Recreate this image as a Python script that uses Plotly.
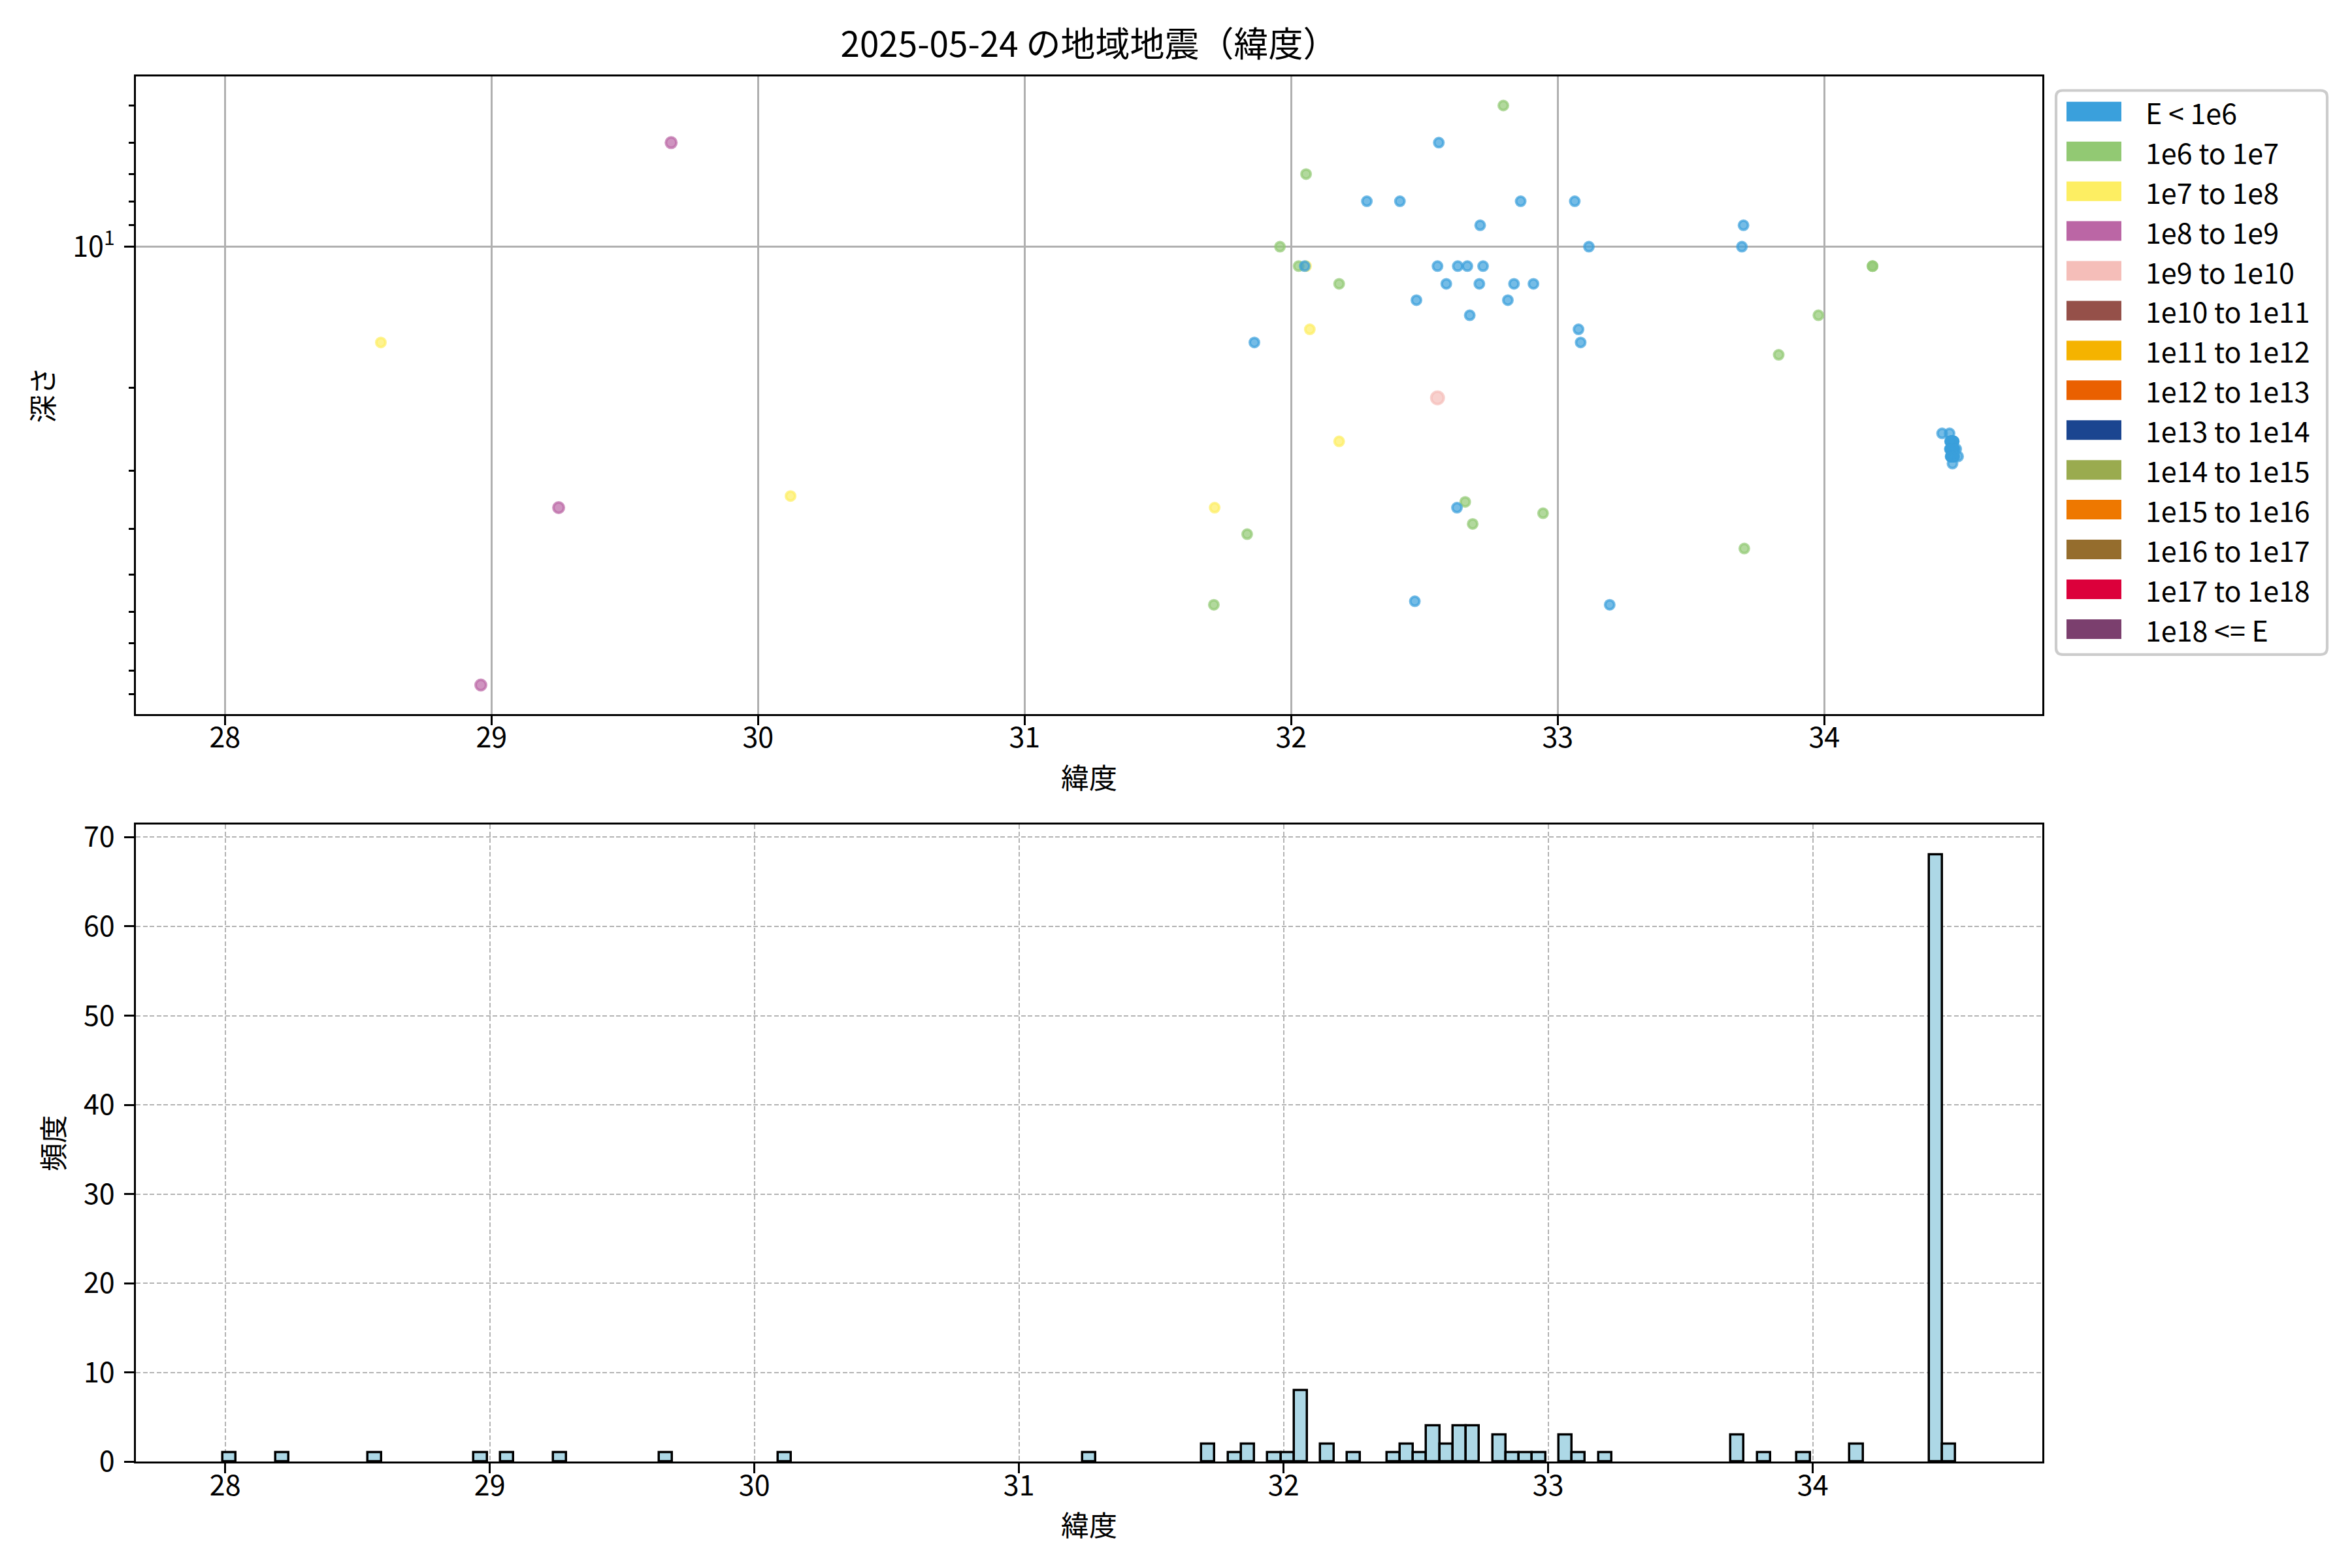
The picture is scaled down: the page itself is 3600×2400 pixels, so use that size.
import math
import plotly.graph_objects as go

# ---------------- data ----------------
CLASS_LABELS = ["E < 1e6", "1e6 to 1e7", "1e7 to 1e8", "1e8 to 1e9", "1e9 to 1e10",
                "1e10 to 1e11", "1e11 to 1e12", "1e12 to 1e13", "1e13 to 1e14",
                "1e14 to 1e15", "1e15 to 1e16", "1e16 to 1e17", "1e17 to 1e18", "1e18 <= E"]
CLASS_COLORS = ["#3aa0dc", "#92c973", "#fdee62", "#bb66a5", "#f5beb9",
                "#955049", "#f5b300", "#ea6000", "#1b4590", "#9aab4f",
                "#ee7800", "#956d2d", "#dc003b", "#7b3f6e"]
CLASS_SIZES = [14, 14, 14, 16, 19, 19, 19, 19, 19, 19, 19, 19, 19, 19]

N = None  # depth not available (not drawn on the log-depth axis)

# scattered events: latitude, depth (km), energy class index
lat_main = [27.990, 28.210, 28.585, 28.960, 29.060, 29.252, 29.674, 30.122, 31.260,
            31.713, 31.710, 31.835, 31.862, 31.870, 31.958, 32.028, 32.056, 32.056,
            32.051, 32.070, 32.060, 32.062, 32.064, 32.066, 32.180, 32.180, 32.284,
            32.408, 32.470, 32.464, 32.520, 32.554, 32.549, 32.549, 32.582, 32.625,
            32.622, 32.661, 32.653, 32.681, 32.670, 32.709, 32.720, 32.706, 32.720,
            32.796, 32.836, 32.813, 32.861, 32.909, 32.945, 33.064, 33.078, 33.086,
            33.117, 33.195, 33.697, 33.691, 33.700, 33.829, 33.978, 34.181, 34.181]
depth_main = [N, N, 16, 86, N, 36, 6, 34, N,
              36, 58, 41, 16, N, 10, 11, 7, 11,
              11, 15, N, N, N, N, 12, 26, 8,
              8, 13, 57, N, 6, 11, 21, 12, 11,
              36, 11, 35, 39, 14, 9, 11, 12, N,
              5, 12, 13, 8, 12, 37, 8, 15, 16,
              10, 58, 9, 10, 44, 17, 14, 11, 11]
cls_main = [0, 0, 2, 3, 0, 3, 3, 2, 0,
            2, 1, 1, 0, 0, 1, 1, 1, 2,
            0, 2, 0, 0, 0, 0, 1, 2, 0,
            0, 0, 0, 0, 0, 0, 4, 0, 0,
            0, 0, 1, 1, 0, 0, 0, 0, 0,
            1, 0, 0, 0, 0, 1, 0, 0, 0,
            0, 0, 0, 0, 1, 1, 1, 1, 1]

# dense swarm near 34.47N
lat_swarm = [34.442, 34.470, 34.481, 34.480,
             34.472, 34.475, 34.478, 34.480, 34.483, 34.476, 34.479, 34.481, 34.484, 34.477, 34.474,
             34.482, 34.485, 34.473, 34.478, 34.480, 34.486, 34.476, 34.481, 34.479, 34.483, 34.477,
             34.471, 34.474, 34.477, 34.480, 34.483, 34.486, 34.475, 34.478, 34.481, 34.484, 34.479,
             34.476, 34.482, 34.473, 34.480, 34.485, 34.477, 34.481, 34.478, 34.487, 34.474, 34.482,
             34.475, 34.478, 34.481, 34.484, 34.476, 34.479, 34.482, 34.477, 34.480, 34.483, 34.486,
             34.474, 34.478, 34.481, 34.485, 34.476, 34.479, 34.482, 34.480, 34.488,
             34.495, 34.502]
depth_swarm = [25, 25, 29, 27,
               26, 26, 26, 26, 26, 26, 26, 26, 26, 26, 26,
               26, 26, 26, 26, 26, 26, 26, 26, 26, 26, 26,
               27, 27, 27, 27, 27, 27, 27, 27, 27, 27, 27,
               27, 27, 27, 27, 27, 27, 27, 27, 27, 27, 27,
               28, 28, 28, 28, 28, 28, 28, 28, 28, 28, 28,
               28, 28, 28, 28, 28, 28, 28, 28, 28,
               27, 28]
cls_swarm = [0, 0, 0, 1] + [0] * 66

lat = lat_main + lat_swarm
depth = depth_main + depth_swarm
ecls = cls_main + cls_swarm

HIST_START, HIST_END, HIST_BIN = 27.99, 34.54, 0.05

# ---------------- figure ----------------
W, H = 3600, 2400
FONT = "Noto Sans CJK JP"
PT = 300 / 72.0
FS = 43  # ~10pt at 300 dpi (slightly enlarged for the wider reference glyphs)


def px(x):
    return x / W


def py(y):
    return 1 - y / H


def rgba(hexc, a):
    h = hexc.lstrip("#")
    r, g, b = int(h[0:2], 16), int(h[2:4], 16), int(h[4:6], 16)
    return f"rgba({r},{g},{b},{a})"


fig = go.Figure()

# scatter, one trace per energy class (drawn from highest to lowest class)
for k in reversed(range(len(CLASS_LABELS))):
    xs = [lat[i] for i in range(len(lat)) if ecls[i] == k and depth[i] is not None]
    ys = [depth[i] for i in range(len(lat)) if ecls[i] == k and depth[i] is not None]
    if not xs:
        continue
    fig.add_trace(go.Scatter(
        x=xs, y=ys, mode="markers", name=CLASS_LABELS[k], showlegend=False,
        marker=dict(size=CLASS_SIZES[k], color=rgba(CLASS_COLORS[k], 0.7),
                    line=dict(color=rgba(CLASS_COLORS[k], 0.7), width=4)),
        xaxis="x", yaxis="y"))

# histogram of latitudes
fig.add_trace(go.Histogram(
    x=lat, xbins=dict(start=HIST_START, end=HIST_END, size=HIST_BIN),
    marker=dict(color="#add8e6", line=dict(color="black", width=3.5)),
    showlegend=False, xaxis="x2", yaxis="y2"))

ax_left, ax_right = 200, 3118
top_y0, top_y1 = 108.5, 1084.7
bot_y0, bot_y1 = 1254.3, 2229.3

tickfont = dict(family=FONT, size=FS, color="black")
labfont = dict(family=FONT, size=FS, color="black")
spine = dict(showline=True, linecolor="black", linewidth=0.8 * PT, mirror=True,
             ticks="outside", ticklen=3.5 * PT, tickwidth=0.8 * PT, tickcolor="black",
             tickfont=tickfont, zeroline=False, automargin=False)

fig.update_layout(
    width=W, height=H, margin=dict(l=0, r=0, t=0, b=0),
    paper_bgcolor="white", plot_bgcolor="white",
    font=dict(family=FONT, color="black"),
    bargap=0,
    title=dict(text="2025-05-24 の地域地震（緯度）", x=px((ax_left + ax_right) / 2), xanchor="center",
               y=py(60), yanchor="middle", xref="paper", yref="container",
               font=dict(family=FONT, size=53, color="black")),
    xaxis=dict(domain=[px(ax_left), px(ax_right)], range=[27.666, 34.818],
               tickmode="array", tickvals=[28, 29, 30, 31, 32, 33, 34],
               showgrid=True, gridcolor="#b0b0b0", gridwidth=0.8 * PT,
               ticklabelstandoff=-18,
               title=dict(text="緯度", font=labfont, standoff=22), anchor="y", **spine),
    yaxis=dict(domain=[py(top_y1), py(top_y0)], type="log",
               range=[1.996, 0.6363],
               tickmode="array", tickvals=[10], ticktext=["10<sup>1</sup>"],
               showgrid=True, gridcolor="#b0b0b0", gridwidth=0.8 * PT,
               ticklabelstandoff=6,
               minor=dict(tickmode="array", tickvals=[5, 6, 7, 8, 9, 20, 30, 40, 50, 60, 70, 80, 90],
                          ticks="outside", ticklen=2 * PT, tickwidth=0.6 * PT, tickcolor="black",
                          showgrid=False),
               title=dict(text="深さ", font=labfont, standoff=16), anchor="x", **spine),
    xaxis2=dict(domain=[px(ax_left), px(ax_right)], range=[27.6625, 34.8675],
                tickmode="array", tickvals=[28, 29, 30, 31, 32, 33, 34],
                showgrid=True, gridcolor="#b3b3b3", gridwidth=0.5 * PT, griddash="7px,3.5px",
                ticklabelstandoff=-18,
                title=dict(text="緯度", font=labfont, standoff=22), anchor="y2", **spine),
    yaxis2=dict(domain=[py(bot_y1), py(bot_y0)], range=[0, 71.4],
                tickmode="array", tickvals=[0, 10, 20, 30, 40, 50, 60, 70],
                showgrid=True, gridcolor="#b3b3b3", gridwidth=0.5 * PT, griddash="7px,3.5px",
                ticklabelstandoff=6,
                title=dict(text="頻度", font=labfont, standoff=16), anchor="x2", **spine),
)

# ---------------- legend (drawn as patches + labels) ----------------
lx0, lx1, ly0, ly1 = 3139, 3554, 130.5, 993.8
r = 10
path = (f"M {px(lx0 + r)} {py(ly0)} L {px(lx1 - r)} {py(ly0)} "
        f"Q {px(lx1)} {py(ly0)} {px(lx1)} {py(ly0 + r)} L {px(lx1)} {py(ly1 - r)} "
        f"Q {px(lx1)} {py(ly1)} {px(lx1 - r)} {py(ly1)} L {px(lx0 + r)} {py(ly1)} "
        f"Q {px(lx0)} {py(ly1)} {px(lx0)} {py(ly1 - r)} L {px(lx0)} {py(ly0 + r)} "
        f"Q {px(lx0)} {py(ly0)} {px(lx0 + r)} {py(ly0)} Z")
shapes = [dict(type="path", xref="paper", yref="paper", path=path,
               line=dict(color="#cccccc", width=1.0 * PT), fillcolor="rgba(255,255,255,0.8)")]
annotations = []
row0, row_step, patch_h = 162.8, 60.93, 30
for i, (lab, col) in enumerate(zip(CLASS_LABELS, CLASS_COLORS)):
    yc = row0 + i * row_step
    shapes.append(dict(type="rect", xref="paper", yref="paper",
                       x0=px(3155), x1=px(3239), y0=py(yc + patch_h / 2), y1=py(yc - patch_h / 2),
                       line=dict(width=0), fillcolor=col))
    annotations.append(dict(text=lab, xref="paper", yref="paper", x=px(3274), y=py(yc),
                            xanchor="left", yanchor="middle", showarrow=False,
                            font=dict(family=FONT, size=FS, color="black")))
fig.update_layout(shapes=shapes, annotations=annotations)

fig.write_html("out.html")
